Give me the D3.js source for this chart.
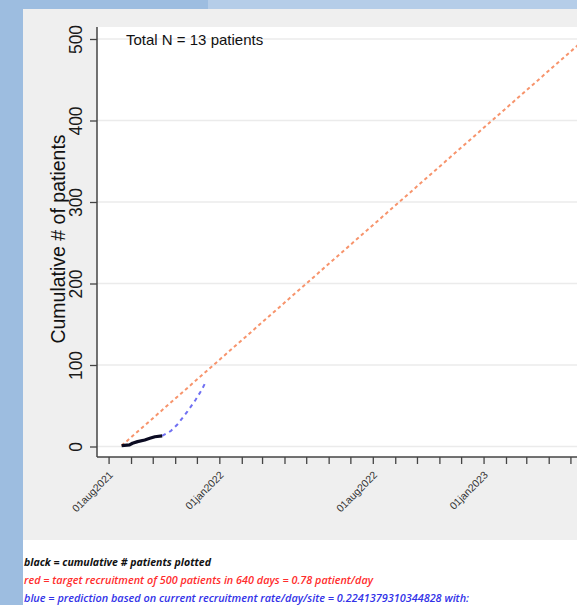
<!DOCTYPE html>
<html>
<head>
<meta charset="utf-8">
<script src="https://cdn.jsdelivr.net/npm/d3@7"></script>
<style>
  html, body { margin: 0; padding: 0; background: #ffffff; }
  svg { display: block; }
</style>
</head>
<body>
<div id="chart"></div>
<script>
// 1. data
var observedDates = ["2021-08-19", "2021-08-30", "2021-09-03", "2021-09-10", "2021-09-20", "2021-09-27", "2021-10-04", "2021-10-14"];
var observedCounts = [1, 2, 4, 6, 8, 10, 12, 13];

var predictedDates = ["2021-10-14", "2021-10-26", "2021-11-04", "2021-11-18", "2021-11-29", "2021-12-08", "2021-12-13"];
var predictedCounts = [13, 19, 27, 43, 57, 70, 79];

var targetDates = ["2021-08-19", "2023-05-21"];
var targetCounts = [1, 500];

var yTicks = [0, 100, 200, 300, 400, 500];
var xLabelDates = ["2021-08-01", "2022-01-01", "2022-08-01", "2023-01-01"];

var totalText = "Total N = 13 patients";
var notes = [
  "black = cumulative # patients plotted",
  "red = target recruitment of 500 patients in 640 days = 0.78 patient/day",
  "blue = prediction based on current recruitment rate/day/site = 0.2241379310344828 with:"
];

var width = 577;
var height = 605;
var parse = d3.utcParse("%Y-%m-%d");
var fmt = d3.utcFormat("%d%b%Y");

var svg = d3.select("#chart").append("svg").attr("width", width).attr("height", height);

// 2. page background (window frame + stata panel)
svg.append("rect").attr("x", 0).attr("y", 0).attr("width", width).attr("height", height).attr("fill", "#ffffff");
svg.append("rect").attr("x", 0).attr("y", 0).attr("width", 23).attr("height", height).attr("fill", "#9dbde0");
svg.append("rect").attr("x", 0).attr("y", 0).attr("width", 208).attr("height", 9).attr("fill", "#9dbde0");
svg.append("rect").attr("x", 208).attr("y", 0).attr("width", width - 208).attr("height", 9).attr("fill", "#b5cde8");
svg.append("rect").attr("x", 23).attr("y", 9).attr("width", width - 23).attr("height", 531).attr("fill", "#efefef");

// plot region
var plot = { left: 97, top: 27, bottom: 457 };
svg.append("rect")
  .attr("x", plot.left).attr("y", plot.top)
  .attr("width", width - plot.left).attr("height", plot.bottom - plot.top)
  .attr("fill", "#ffffff");

// 3. scales
var xScale = d3.scaleUtc()
  .domain([parse("2021-07-16"), parse("2023-06-15")])
  .range([97, 603]);

var yScale = d3.scaleLinear()
  .domain([0, 500])
  .range([446.5, 39]);

// gridlines
svg.append("g")
  .selectAll("line")
  .data(yTicks)
  .enter()
  .append("line")
  .attr("x1", plot.left).attr("x2", width)
  .attr("y1", function(d) { return yScale(d); })
  .attr("y2", function(d) { return yScale(d); })
  .attr("stroke", "#ebebeb")
  .attr("stroke-width", 1.5);

// 4. axes
var axisY = d3.axisLeft(yScale).tickValues(yTicks).tickSize(7).tickFormat(d3.format("d"));
var gy = svg.append("g")
  .attr("transform", "translate(" + plot.left + ",0)")
  .call(axisY);
gy.select(".domain").remove();
gy.selectAll(".tick line").attr("stroke", "#444").attr("stroke-width", 1.3);
gy.selectAll(".tick text")
  .attr("fill", "#1a1a1a")
  .attr("font-family", "Liberation Sans, Arial, sans-serif")
  .attr("font-size", "17.5px")
  .attr("x", 0).attr("y", 0).attr("dy", 0)
  .attr("text-anchor", "middle")
  .attr("transform", "translate(-15,0) rotate(-90)");

svg.append("line")
  .attr("x1", plot.left).attr("x2", plot.left)
  .attr("y1", plot.top).attr("y2", plot.bottom)
  .attr("stroke", "#444").attr("stroke-width", 1.5);

svg.append("text")
  .attr("transform", "translate(65," + 239 + ") rotate(-90)")
  .attr("text-anchor", "middle")
  .attr("fill", "#111")
  .attr("font-family", "Liberation Sans, Arial, sans-serif")
  .attr("font-size", "19.5px")
  .text("Cumulative # of patients");

var monthTicks = d3.utcMonth.range(parse("2021-08-01"), parse("2023-07-01"));
var labelSet = xLabelDates.map(function(d) { return parse(d).getTime(); });
var axisX = d3.axisBottom(xScale)
  .tickValues(monthTicks)
  .tickSize(7)
  .tickFormat(function(d) { return labelSet.indexOf(d.getTime()) >= 0 ? fmt(d).toLowerCase() : ""; });

var gx = svg.append("g")
  .attr("transform", "translate(0," + plot.bottom + ")")
  .call(axisX);
gx.select(".domain").remove();
gx.selectAll(".tick line").attr("stroke", "#444").attr("stroke-width", 1.3);
gx.selectAll(".tick text")
  .attr("fill", "#333")
  .attr("font-family", "Liberation Sans, Arial, sans-serif")
  .attr("font-size", "10.5px")
  .attr("x", 0).attr("y", 0).attr("dy", "0.35em")
  .attr("text-anchor", "end")
  .attr("transform", "translate(2,16) rotate(-45)");

svg.append("line")
  .attr("x1", plot.left).attr("x2", width)
  .attr("y1", plot.bottom).attr("y2", plot.bottom)
  .attr("stroke", "#444").attr("stroke-width", 1.5);

// 5. lines
var line = d3.line()
  .x(function(d) { return xScale(d[0]); })
  .y(function(d) { return yScale(d[1]); });

function pairs(dates, counts) {
  return dates.map(function(d, i) { return [parse(d), counts[i]]; });
}

svg.append("path")
  .datum(pairs(targetDates, targetCounts))
  .attr("d", line)
  .attr("fill", "none")
  .attr("stroke", "#f7946c")
  .attr("stroke-width", 2)
  .attr("stroke-dasharray", "3.5,3");

svg.append("path")
  .datum(pairs(predictedDates, predictedCounts))
  .attr("d", line)
  .attr("fill", "none")
  .attr("stroke", "#7070f2")
  .attr("stroke-width", 2)
  .attr("stroke-dasharray", "4,4");

svg.append("path")
  .datum(pairs(observedDates, observedCounts))
  .attr("d", line)
  .attr("fill", "none")
  .attr("stroke", "#0b0b22")
  .attr("stroke-width", 3.2)
  .attr("stroke-linejoin", "round");

svg.append("text")
  .attr("x", 126).attr("y", 45)
  .attr("fill", "#111")
  .attr("font-family", "Liberation Sans, Arial, sans-serif")
  .attr("font-size", "15px")
  .text(totalText);

// 6. notes under the graph
var noteColors = ["#111111", "#ff2d2d", "#3232e8"];
var noteWeights = ["bold", "600", "600"];
var noteEnds = [211, 373, 469];
svg.append("g")
  .selectAll("text")
  .data(notes)
  .enter()
  .append("text")
  .attr("x", 24)
  .attr("y", function(d, i) { return 566 + i * 18; })
  .attr("fill", function(d, i) { return noteColors[i]; })
  .attr("font-weight", function(d, i) { return noteWeights[i]; })
  .attr("font-style", "italic")
  .attr("font-family", "Open Sans, Liberation Sans, sans-serif")
  .attr("font-size", "10.5px")
  .attr("textLength", function(d, i) { return noteEnds[i] - 24; })
  .attr("lengthAdjust", "spacingAndGlyphs")
  .text(function(d) { return d; });
</script>
</body>
</html>
